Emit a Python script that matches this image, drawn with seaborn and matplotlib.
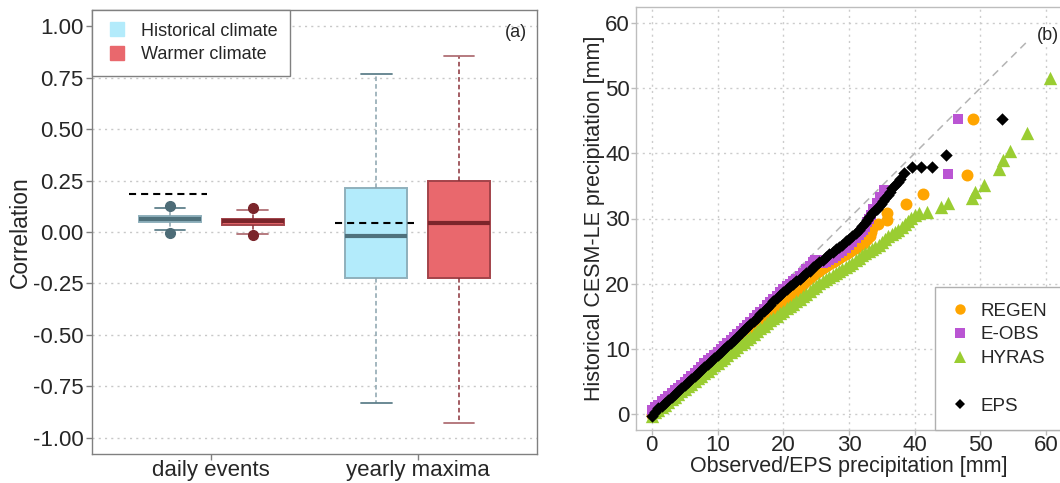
import numpy as np
import pandas as pd
import matplotlib
matplotlib.use("Agg")
import matplotlib.pyplot as plt
import seaborn as sns
from matplotlib.lines import Line2D

# ---------------- data: panel (a) ----------------
categories = ["daily events", "yearly maxima"]
climates = ["Historical climate", "Warmer climate"]
# sample values chosen to reproduce the drawn box summaries (whiskers, quartiles, median, outliers)
hist_daily = [-0.005, 0.012, 0.050, 0.058, 0.065, 0.071, 0.078, 0.115, 0.128]
warm_daily = [-0.016, -0.008, 0.035, 0.044, 0.052, 0.058, 0.065, 0.108, 0.117]
hist_yearly = [-0.828, -0.222, -0.021, 0.212, 0.767]
warm_yearly = [-0.929, -0.225, 0.042, 0.250, 0.856]
ref_corr = [0.185, 0.042]          # black dashed reference per category
ytick_vals = [1.00, 0.75, 0.50, 0.25, 0.00, -0.25, -0.50, -0.75, -1.00]
ytick_labels = ["1.00", "0.75", "0.50", "0.25", "0.00", "-0.25", "-0.50", "-0.75", "-1.00"]

# ---------------- data: panel (b)  (observed quantile, model quantile) ----------------
REGEN_pts = [
    (0, -0.1), (0.5, 0.35), (1, 0.8), (1.5, 1.2), (2, 1.6), (2.5, 2.05), (3, 2.5), (3.5, 2.95),
    (4, 3.4), (4.5, 3.8), (5, 4.2), (5.5, 4.65), (6, 5.1), (6.5, 5.5), (7, 5.9), (7.5, 6.35),
    (8, 6.8), (8.5, 7.2), (9, 7.6), (9.5, 8.05), (10, 8.5), (10.5, 8.9), (11, 9.3), (11.5, 9.75),
    (12, 10.2), (12.5, 10.65), (13, 11.1), (13.5, 11.55), (14, 12.0), (14.5, 12.45), (15, 12.9),
    (15.5, 13.35), (16, 13.8), (16.5, 14.25), (17, 14.7), (17.5, 15.1), (18, 15.5), (18.5, 15.9),
    (19, 16.3), (19.5, 16.7), (20, 17.1), (20.5, 17.5), (21, 17.9), (21.5, 18.4), (22, 18.9),
    (22.5, 19.4), (23, 19.9), (23.5, 20.4), (24, 20.9), (24.5, 21.3), (25, 21.7), (25.5, 22.0),
    (26, 22.4), (26.5, 22.7), (27, 23.0), (27.5, 23.4), (28, 23.7), (28.5, 24.0), (29, 24.3),
    (29.5, 24.6), (30, 24.9), (30.5, 25.2), (31, 25.5), (31.7, 25.9), (32.3, 26.3), (32.8, 26.8),
    (33.2, 27.3), (33.4, 28.0), (33.5, 28.5), (34.4, 29.2), (35.8, 29.8), (35.8, 30.9),
    (38.6, 32.2), (41.3, 33.7), (48.0, 36.6), (48.9, 45.3),
]
EOBS_pts = [
    (0, 0.7), (0.5, 1.1), (1, 1.5), (1.5, 2.0), (2, 2.4), (2.5, 2.85), (3, 3.3), (3.5, 3.7),
    (4, 4.1), (4.5, 4.55), (5, 5.0), (5.5, 5.45), (6, 5.9), (6.5, 6.35), (7, 6.8), (7.5, 7.3),
    (8, 7.8), (8.5, 8.25), (9, 8.7), (9.5, 9.15), (10, 9.6), (10.5, 10.05), (11, 10.5),
    (11.5, 10.95), (12, 11.4), (12.5, 11.85), (13, 12.3), (13.5, 12.8), (14, 13.3), (14.5, 13.75),
    (15, 14.2), (15.5, 14.7), (16, 15.2), (16.5, 15.7), (17, 16.2), (17.5, 16.7), (18, 17.2),
    (18.5, 17.7), (19, 18.2), (19.5, 18.7), (20, 19.2), (20.5, 19.6), (21, 20.0), (21.5, 20.4),
    (22, 20.8), (22.5, 21.25), (23, 21.7), (23.5, 22.2), (24, 22.7), (24.5, 23.3), (24.8, 23.7),
    (25.2, 23.6), (25.5, 23.5), (26, 23.2), (26.5, 23.4), (27, 23.65), (27.5, 24.0), (28, 24.3),
    (28.5, 24.65), (29, 25.0), (29.5, 25.45), (30, 25.9), (30.5, 26.45), (31, 27.0), (31.5, 27.5),
    (31.8, 27.9), (32.1, 28.3), (32.4, 28.7), (32.8, 29.4), (33.0, 30.0), (33.3, 30.6),
    (33.7, 31.4), (34.2, 32.3), (34.7, 33.3), (35.3, 34.4), (45.0, 36.8), (46.6, 45.3),
]
HYRAS_pts = [
    (0, -0.2), (0.5, 0.3), (1, 0.7), (1.5, 1.1), (2, 1.5), (2.5, 1.9), (3, 2.3), (3.5, 2.7),
    (4, 3.1), (4.5, 3.5), (5, 3.9), (5.5, 4.3), (6, 4.7), (6.5, 5.1), (7, 5.5), (7.5, 5.9),
    (8, 6.3), (8.5, 6.7), (9, 7.1), (9.5, 7.5), (10, 7.9), (10.5, 8.3), (11, 8.7), (11.5, 9.1),
    (12, 9.5), (12.5, 9.9), (13, 10.3), (13.5, 10.7), (14, 11.1), (14.5, 11.5), (15, 11.9),
    (15.5, 12.35), (16, 12.8), (16.5, 13.2), (17, 13.6), (17.5, 14.0), (18, 14.4), (18.5, 14.75),
    (19, 15.1), (19.5, 15.5), (20, 15.9), (20.5, 16.25), (21, 16.6), (21.5, 16.95), (22, 17.3),
    (22.5, 17.7), (23, 18.1), (23.5, 18.5), (24, 18.9), (24.5, 19.3), (25, 19.7), (25.5, 20.1),
    (26, 20.5), (26.5, 20.8), (27, 21.1), (27.5, 21.35), (28, 21.6), (28.5, 21.95), (29, 22.3),
    (29.5, 22.6), (30, 22.9), (30.5, 23.25), (31, 23.6), (31.5, 24.0), (32, 24.4), (32.5, 24.7),
    (33, 25.0), (33.5, 25.35), (34, 25.7), (34.5, 26.0), (35, 26.4), (35.5, 26.9), (36, 27.3),
    (36.5, 27.6), (37, 28.0), (37.5, 28.3), (38, 28.7), (38.5, 29.1), (39, 29.6), (39.5, 30.1),
    (40, 30.5), (40.6, 30.8), (41.9, 31.0), (44.0, 31.7), (45.1, 32.4), (48.7, 33.2), (49.1, 34.0),
    (50.5, 35.1), (52.8, 37.6), (53.5, 38.9), (54.5, 40.4), (57.1, 43.1), (60.5, 51.5),
]
EPS_pts = [
    (0, -0.3), (0.5, 0.4), (1, 0.9), (1.5, 1.35), (2, 1.8), (2.5, 2.25), (3, 2.7), (3.5, 3.15),
    (4, 3.6), (4.5, 4.05), (5, 4.5), (5.5, 4.95), (6, 5.4), (6.5, 5.85), (7, 6.3), (7.5, 6.8),
    (8, 7.3), (8.5, 7.75), (9, 8.2), (9.5, 8.65), (10, 9.1), (10.5, 9.55), (11, 10.0), (11.5, 10.5),
    (12, 11.0), (12.5, 11.45), (13, 11.9), (13.5, 12.4), (14, 12.9), (14.5, 13.35), (15, 13.8),
    (15.5, 14.3), (16, 14.8), (16.5, 15.3), (17, 15.8), (17.5, 16.3), (18, 16.8), (18.5, 17.3),
    (19, 17.8), (19.5, 18.3), (20, 18.8), (20.5, 19.2), (21, 19.6), (21.5, 20.0), (22, 20.4),
    (22.5, 20.8), (23, 21.2), (23.5, 21.6), (24, 22.0), (24.5, 22.5), (25, 22.9), (25.5, 23.3),
    (26, 23.7), (26.5, 24.1), (27, 24.5), (27.5, 24.9), (28, 25.3), (28.5, 25.6), (29, 26.0),
    (29.5, 26.5), (30, 26.9), (30.5, 27.3), (31, 27.8), (31.5, 28.3), (32, 28.8), (32.5, 29.3),
    (32.8, 29.7), (33.1, 30.2), (33.5, 30.8), (33.8, 31.1), (34.2, 31.5), (34.5, 31.9),
    (34.8, 32.2), (35.1, 32.7), (35.5, 33.2), (35.9, 33.6), (36.3, 34.0), (36.6, 34.6),
    (37.0, 35.2), (37.4, 35.6), (37.8, 36.0), (38.3, 37.0), (39.6, 37.9), (41.0, 37.9),
    (42.7, 37.9), (44.7, 39.8), (53.3, 45.3),
]
diag = [0, 57]
btick_vals = [0, 10, 20, 30, 40, 50, 60]

# ---------------- style ----------------
sns.set_style("white")
plt.rcParams["font.family"] = ["Liberation Sans", "DejaVu Sans"]

fig = plt.figure(figsize=(10.6, 4.83), dpi=100)
ax1 = fig.add_axes([92 / 1060, 29 / 483, 445 / 1060, 444 / 483])
ax2 = fig.add_axes([636 / 1060, 53 / 483, 426 / 1060, 423 / 483])

# ---------------- panel (a) ----------------
df = pd.DataFrame({
    "type": [categories[0]] * len(hist_daily) + [categories[0]] * len(warm_daily)
            + [categories[1]] * len(hist_yearly) + [categories[1]] * len(warm_yearly),
    "climate": [climates[0]] * len(hist_daily) + [climates[1]] * len(warm_daily)
               + [climates[0]] * len(hist_yearly) + [climates[1]] * len(warm_yearly),
    "value": hist_daily + warm_daily + hist_yearly + warm_yearly,
})

fills = {climates[0]: "#b3ebfb", climates[1]: "#e9686d"}
styles = {
    climates[0]: dict(box="#8fb0bc", med="#4f717c", wh="#8aa3ad", cap="#5f808b", fl="#4d6c77"),
    climates[1]: dict(box="#a3434a", med="#7b252b", wh="#8a3038", cap="#b07075", fl="#7b252b"),
}
for clim in climates:
    st = styles[clim]
    sub = df[df["climate"] == clim]
    sns.boxplot(data=sub, x="type", y="value", hue="climate", order=categories,
                hue_order=climates, palette=fills, saturation=1, width=0.8, gap=0.25, dodge=True,
                whis=1.5, linewidth=1.2, linecolor=st["box"], fliersize=7, legend=False,
                boxprops=dict(edgecolor=st["box"], linewidth=1.4),
                medianprops=dict(color=st["med"], linewidth=3),
                whiskerprops=dict(color=st["wh"], linestyle=(0, (3, 2)), linewidth=1.1),
                capprops=dict(color=st["cap"], linewidth=1.3),
                flierprops=dict(marker="o", markerfacecolor=st["fl"], markeredgecolor=st["fl"],
                                markersize=7),
                ax=ax1)

for i, v in enumerate(ref_corr):
    ax1.hlines(v, i - 0.40, i - 0.02, colors="black", linestyles=(0, (3.4, 2.4)), linewidth=1.5,
               zorder=5)

ax1.set_xlim(-0.578, 1.578)
ax1.set_ylim(-1.078, 1.078)
ax1.set_yticks(ytick_vals)
ax1.set_yticklabels(ytick_labels)
ax1.set_xticks(range(len(categories)))
ax1.set_xticklabels(categories)
ax1.set_xlabel("")
ax1.set_ylabel("Correlation", fontsize=16.5, labelpad=1)
ax1.yaxis.grid(True, linestyle=(0, (1.5, 3)), color="#c8c8c8", linewidth=1)
ax1.xaxis.grid(False)
ax1.set_axisbelow(True)
ax1.tick_params(axis="both", direction="out", length=4, color="#808080", labelsize=16,
                left=True, bottom=True, width=1)
ax1.tick_params(axis="x", pad=0)
ax1.tick_params(axis="y", pad=2)
for sp in ax1.spines.values():
    sp.set_color("#808080")
    sp.set_linewidth(1)

leg_handles = [Line2D([], [], marker="s", ls="", markersize=10,
                      markerfacecolor=fills[c], markeredgecolor=fills[c]) for c in climates]
leg1 = ax1.legend(leg_handles, climates, loc="upper left", bbox_to_anchor=(0, 1),
                  borderaxespad=0, frameon=True, fancybox=False, edgecolor="#808080",
                  framealpha=1, fontsize=13, handletextpad=0.6, borderpad=0.7,
                  labelspacing=0.35, handlelength=1.4)
leg1.get_frame().set_linewidth(1)
ax1.text(0.977, 0.95, "(a)", transform=ax1.transAxes, ha="right", va="center", fontsize=13)

# ---------------- panel (b) ----------------
ax2.plot(diag, diag, color="#b4b4b4", linestyle=(0, (5, 3.5)), linewidth=1.1, zorder=1)
series = [
    ("REGEN", REGEN_pts, "#ffa500", "o", 74),
    ("E-OBS", EOBS_pts, "#ba55d3", "s", 54),
    ("HYRAS", HYRAS_pts, "#9acd32", "^", 92),
    ("EPS", EPS_pts, "#000000", "D", 40),
]
for name, pts, col, mk, sz in series:
    xs = [p[0] for p in pts]
    ys = [p[1] for p in pts]
    sns.scatterplot(x=xs, y=ys, color=col, marker=mk, s=sz, linewidth=0, ax=ax2, zorder=3)

ax2.set_xlim(-2.4, 62.4)
ax2.set_ylim(-2.4, 62.4)
ax2.set_xticks(btick_vals)
ax2.set_yticks(btick_vals)
ax2.grid(True, linestyle=(0, (1.5, 3)), color="#cccccc", linewidth=1)
ax2.set_axisbelow(True)
ax2.tick_params(axis="both", direction="out", length=3.5, color="#bdbdbd", labelsize=16,
                left=True, bottom=True, width=1, pad=1)
ax2.tick_params(axis="x", pad=0)
for sp in ax2.spines.values():
    sp.set_color("#bdbdbd")
    sp.set_linewidth(1)
ax2.set_xlabel("Observed/EPS precipitation [mm]", fontsize=15.5, labelpad=0)
ax2.set_ylabel("Historical CESM-LE precipitation [mm]", fontsize=15.5, labelpad=0)

h2 = [
    Line2D([], [], marker="o", ls="", color="#ffa500", markersize=7.5, markeredgewidth=0),
    Line2D([], [], marker="s", ls="", color="#ba55d3", markersize=6.5, markeredgewidth=0),
    Line2D([], [], marker="^", ls="", color="#9acd32", markersize=8.5, markeredgewidth=0),
    Line2D([], [], ls="", marker=""),
    Line2D([], [], marker="D", ls="", color="#000000", markersize=5, markeredgewidth=0),
]
leg2 = ax2.legend(h2, ["REGEN", "E-OBS", "HYRAS", " ", "EPS"], loc="lower right",
                  bbox_to_anchor=(1, 0), borderaxespad=0, frameon=True, fancybox=False,
                  edgecolor="#b0b0b0", framealpha=1, fontsize=13.5, handletextpad=0.6,
                  borderpad=0.8, labelspacing=0.36, handlelength=1.0)
leg2.get_frame().set_linewidth(1)
ax2.text(62.0, 58.0, "(b)", ha="right", va="center", fontsize=13,
         bbox=dict(facecolor="white", edgecolor="none", pad=1))

fig.savefig("out.png", dpi=100)
